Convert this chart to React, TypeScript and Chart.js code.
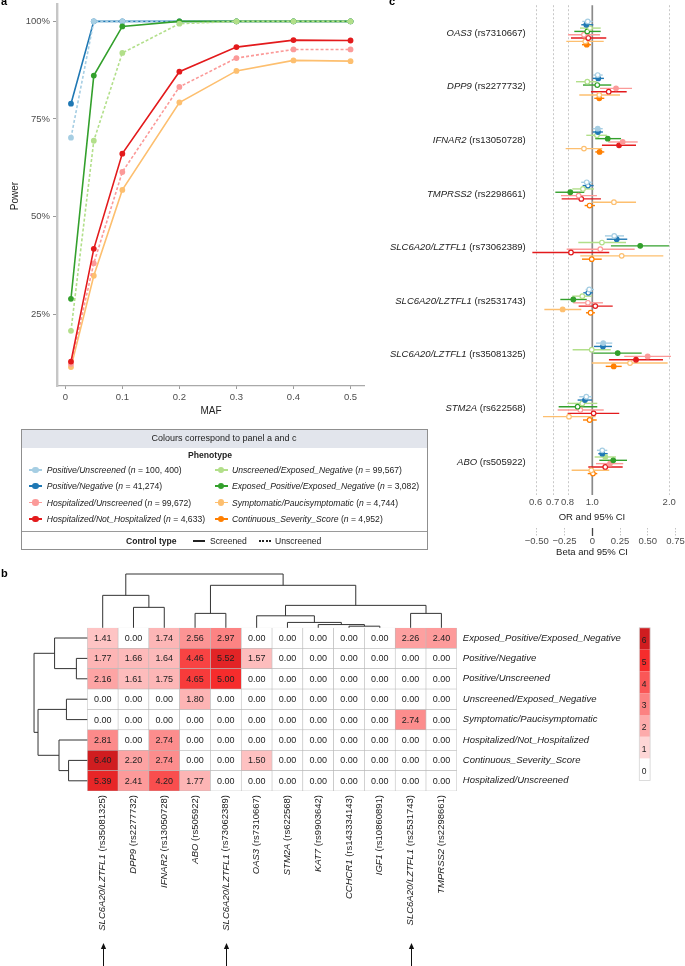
import React, { useEffect, useRef } from "react";
import { Chart, registerables } from "chart.js";

Chart.register(...registerables);

const FONT = '"Liberation Sans", Arial, Helvetica, sans-serif';
Chart.defaults.font.family = FONT;

// ---------------- Phenotypes (shared by a, c and legend) ----------------
const phenotypeNames = [
  "Positive/Unscreened",
  "Positive/Negative",
  "Unscreened/Exposed_Negative",
  "Exposed_Positive/Exposed_Negative",
  "Hospitalized/Unscreened",
  "Hospitalized/Not_Hospitalized",
  "Symptomatic/Paucisymptomatic",
  "Continuous_Severity_Score",
];
const phenotypeCounts = ["100, 400", "41,274", "99,567", "3,082", "99,672", "4,633", "4,744", "4,952"];
const phenotypeColors = ["#a6cee3", "#1f78b4", "#b2df8a", "#33a02c", "#fb9a99", "#e31a1c", "#fdbf6f", "#ff7f00"];
const phenotypeUnscreenedControl = [true, false, true, false, true, false, false, false];

// ---------------- Panel a: power ----------------
const mafValues = [0.01, 0.05, 0.1, 0.2, 0.3, 0.4, 0.5];
const mafTickValues = [0, 0.1, 0.2, 0.3, 0.4, 0.5];
const mafTickLabels = ["0", "0.1", "0.2", "0.3", "0.4", "0.5"];
const powerTickValues = [25, 50, 75, 100];

const powerPositiveUnscreened = [70.2, 100, 100, 100, 100, 100, 100];
const powerPositiveNegative = [78.9, 100, 100, 100, 100, 100, 100];
const powerUnscreenedExposedNegative = [20.7, 69.4, 91.9, 99.4, 100, 100, 100];
const powerExposedPositiveNegative = [28.9, 86.1, 98.7, 100, 100, 100, 100];
const powerHospitalizedUnscreened = [12.2, 38.0, 61.4, 83.2, 90.6, 92.8, 92.8];
const powerHospitalizedNotHospitalized = [12.8, 41.7, 66.1, 87.1, 93.4, 95.2, 95.1];
const powerSymptomatic = [11.4, 34.8, 56.8, 79.2, 87.3, 90.0, 89.8];

// [phenotype index, values] in drawing priority (first = on top)
const powerSeries: [number, number[]][] = [
  [2, powerUnscreenedExposedNegative],
  [3, powerExposedPositiveNegative],
  [0, powerPositiveUnscreened],
  [1, powerPositiveNegative],
  [5, powerHospitalizedNotHospitalized],
  [4, powerHospitalizedUnscreened],
  [6, powerSymptomatic],
];

// ---------------- Panel c: forest (log OR / beta) ----------------
const forestGenes = ["OAS3", "DPP9", "IFNAR2", "TMPRSS2", "SLC6A20/LZTFL1", "SLC6A20/LZTFL1", "SLC6A20/LZTFL1", "STM2A", "ABO"];
const forestRsIds = ["rs7310667", "rs2277732", "rs13050728", "rs2298661", "rs73062389", "rs2531743", "rs35081325", "rs622568", "rs505922"];
// rows = SNPs, columns = phenotypes (same order as phenotypeNames)
const forestEstimate = [
  [-0.041, -0.054, -0.021, -0.045, -0.075, -0.036, -0.063, -0.05],
  [0.049, 0.054, -0.045, 0.045, 0.214, 0.148, 0.063, 0.063],
  [0.049, 0.051, 0.042, 0.139, 0.274, 0.241, -0.075, 0.066],
  [-0.05, -0.039, -0.084, -0.198, -0.123, -0.099, 0.195, -0.024],
  [0.198, 0.22, 0.087, 0.432, 0.072, -0.192, 0.265, -0.005],
  [-0.027, -0.036, -0.09, -0.171, -0.039, 0.027, -0.267, -0.015],
  [0.099, 0.096, -0.005, 0.229, 0.499, 0.394, 0.34, 0.193],
  [-0.054, -0.066, -0.09, -0.132, -0.108, 0.012, -0.21, -0.024],
  [0.09, 0.09, 0.117, 0.189, 0.159, 0.117, -0.009, 0.006],
];
const forestLower = [
  [-0.09, -0.099, -0.111, -0.162, -0.219, -0.192, -0.234, -0.093],
  [0.009, 0.004, -0.147, -0.084, 0.069, -0.012, -0.117, 0.018],
  [0.004, 0.004, -0.054, 0.027, 0.144, 0.087, -0.24, 0.027],
  [-0.1, -0.087, -0.18, -0.333, -0.282, -0.276, 0.0, -0.069],
  [0.114, 0.13, -0.126, 0.168, -0.231, -0.54, -0.108, -0.093],
  [-0.06, -0.081, -0.18, -0.288, -0.171, -0.123, -0.432, -0.057],
  [0.033, 0.015, -0.177, 0.009, 0.288, 0.15, -0.005, 0.121],
  [-0.117, -0.132, -0.225, -0.303, -0.312, -0.222, -0.444, -0.084],
  [0.042, 0.054, 0.021, 0.063, 0.033, -0.036, -0.186, -0.041],
];
const forestUpper = [
  [0.004, 0.009, 0.076, 0.076, 0.069, 0.126, 0.103, -0.012],
  [0.094, 0.105, 0.04, 0.171, 0.358, 0.31, 0.25, 0.108],
  [0.094, 0.096, 0.132, 0.259, 0.409, 0.394, 0.09, 0.108],
  [0.0, 0.012, 0.015, -0.072, 0.042, 0.078, 0.394, 0.024],
  [0.286, 0.315, 0.304, 0.691, 0.382, 0.153, 0.64, 0.085],
  [0.015, 0.004, -0.003, -0.05, 0.096, 0.184, -0.099, 0.024],
  [0.18, 0.177, 0.166, 0.445, 0.709, 0.637, 0.679, 0.265],
  [-0.003, -0.003, 0.045, 0.045, 0.103, 0.243, 0.03, 0.04],
  [0.135, 0.139, 0.214, 0.313, 0.279, 0.274, 0.153, 0.045],
];
const forestSignificant = [
  [0, 1, 0, 0, 0, 0, 0, 1],
  [0, 1, 0, 0, 1, 0, 0, 1],
  [1, 1, 0, 1, 1, 1, 0, 1],
  [0, 0, 0, 1, 0, 0, 0, 0],
  [0, 1, 0, 1, 0, 0, 0, 0],
  [0, 0, 0, 1, 0, 0, 1, 0],
  [1, 1, 0, 1, 1, 1, 0, 1],
  [0, 1, 0, 0, 0, 0, 0, 0],
  [0, 1, 1, 1, 1, 0, 0, 0],
];
const orTickValues = [0.6, 0.7, 0.8, 1.0, 2.0];
const orTickLabels = ["0.6", "0.7", "0.8", "1.0", "2.0"];
const betaTickValues = [-0.5, -0.25, 0, 0.25, 0.5, 0.75];
const betaTickLabels = ["\u22120.50", "\u22120.25", "0", "0.25", "0.50", "0.75"];
const forestDodge = 0.062;

// ---------------- Panel b: heatmap ----------------
const heatRowLabels = [
  "Exposed_Positive/Exposed_Negative",
  "Positive/Negative",
  "Positive/Unscreened",
  "Unscreened/Exposed_Negative",
  "Symptomatic/Paucisymptomatic",
  "Hospitalized/Not_Hospitalized",
  "Continuous_Severity_Score",
  "Hospitalized/Unscreened",
];
const heatColumnGenes = ["SLC6A20/LZTFL1", "DPP9", "IFNAR2", "ABO", "SLC6A20/LZTFL1", "OAS3", "STM2A", "KAT7", "CCHCR1", "IGF1", "SLC6A20/LZTFL1", "TMPRSS2"];
const heatColumnRsIds = ["rs35081325", "rs2277732", "rs13050728", "rs505922", "rs73062389", "rs7310667", "rs622568", "rs9903642", "rs143334143", "rs10860891", "rs2531743", "rs2298661"];
const heatExposedPositiveNegative = [1.41, 0, 1.74, 2.56, 2.97, 0, 0, 0, 0, 0, 2.26, 2.4];
const heatPositiveNegative = [1.77, 1.66, 1.64, 4.46, 5.52, 1.57, 0, 0, 0, 0, 0, 0];
const heatPositiveUnscreened = [2.16, 1.61, 1.75, 4.65, 5.0, 0, 0, 0, 0, 0, 0, 0];
const heatUnscreenedExposedNegative = [0, 0, 0, 1.8, 0, 0, 0, 0, 0, 0, 0, 0];
const heatSymptomatic = [0, 0, 0, 0, 0, 0, 0, 0, 0, 0, 2.74, 0];
const heatHospitalizedNotHospitalized = [2.81, 0, 2.74, 0, 0, 0, 0, 0, 0, 0, 0, 0];
const heatContinuousSeverity = [6.4, 2.2, 2.74, 0, 0, 1.5, 0, 0, 0, 0, 0, 0];
const heatHospitalizedUnscreened = [5.39, 2.41, 4.2, 1.77, 0, 0, 0, 0, 0, 0, 0, 0];
const heatValues = [
  heatExposedPositiveNegative,
  heatPositiveNegative,
  heatPositiveUnscreened,
  heatUnscreenedExposedNegative,
  heatSymptomatic,
  heatHospitalizedNotHospitalized,
  heatContinuousSeverity,
  heatHospitalizedUnscreened,
];
const heatScaleColors = ["#ffffff", "#fed6d6", "#fdabab", "#fc8282", "#fa5757", "#f62c2c", "#d01d20"];
const colorbarValues = [6, 5, 4, 3, 2, 1, 0];
const arrowColumns = [0, 4, 10];
// dendrograms (hclust-style merges: negative = leaf, positive = earlier merge)
const colMerges = [[-9, -10], [-8, 1], [-7, 2], [-6, 3], [-2, -3], [-1, 5], [-4, -5], [-11, -12], [4, 8], [7, 9], [6, 10]];
const colMergeHeights = [0.3, 0.6, 1.0, 2.23, 3.8, 6.03, 2.68, 2.68, 4.17, 7.9, 10];
const rowMerges = [[-2, -3], [-1, 1], [-4, -5], [-7, -8], [-6, 4], [3, 5], [2, 6]];
const rowMergeHeights = [2.03, 6.08, 3.88, 3.48, 5.26, 9.16, 9.9];

function hexToRgb(h: string) {
  const n = parseInt(h.slice(1), 16);
  return [(n >> 16) & 255, (n >> 8) & 255, n & 255];
}
function heatColor(v: number) {
  const c = Math.max(0, Math.min(6, v));
  const i = Math.min(5, Math.floor(c));
  const t = c - i;
  const a = hexToRgb(heatScaleColors[i]);
  const b = hexToRgb(heatScaleColors[i + 1]);
  const m = a.map((x, k) => Math.round(x + (b[k] - x) * t));
  return `rgb(${m[0]},${m[1]},${m[2]})`;
}

function drawTree(ctx: CanvasRenderingContext2D, merges: number[][], heights: number[], leafPos: (i: number) => number, point: (p: number, h: number) => [number, number]) {
  const memo: Record<number, { p: number; h: number }> = {};
  const pos = (node: number): { p: number; h: number } => {
    if (node < 0) return { p: leafPos(-node - 1), h: 0 };
    if (memo[node]) return memo[node];
    const [a, b] = merges[node - 1];
    const A = pos(a);
    const B = pos(b);
    const h = heights[node - 1];
    const p1 = point(A.p, A.h), p2 = point(A.p, h), p3 = point(B.p, h), p4 = point(B.p, B.h);
    ctx.beginPath();
    ctx.moveTo(p1[0], p1[1]);
    ctx.lineTo(p2[0], p2[1]);
    ctx.lineTo(p3[0], p3[1]);
    ctx.lineTo(p4[0], p4[1]);
    ctx.stroke();
    memo[node] = { p: (A.p + B.p) / 2, h };
    return memo[node];
  };
  pos(merges.length);
}

const TREE_PX = 5.38;

const heatmapPlugin = {
  id: "heatExtras",
  afterDatasetsDraw(chart: any) {
    const { ctx, chartArea } = chart;
    const xs = chart.scales.x;
    const ys = chart.scales.y;
    ctx.save();
    // cell values
    ctx.font = `9px ${FONT}`;
    ctx.fillStyle = "#222";
    ctx.textAlign = "center";
    ctx.textBaseline = "middle";
    heatValues.forEach((row, r) =>
      row.forEach((v, c) => {
        ctx.fillText(v.toFixed(2), xs.getPixelForValue(c), ys.getPixelForValue(r + 0.5) + 0.5);
      })
    );
    // row labels
    ctx.font = `italic 9.5px ${FONT}`;
    ctx.textAlign = "left";
    heatRowLabels.forEach((lab, r) => {
      ctx.fillText(lab, chartArea.right + 6, ys.getPixelForValue(r + 0.5));
    });
    // column labels (rotated)
    heatColumnGenes.forEach((gene, c) => {
      const x = xs.getPixelForValue(c);
      ctx.save();
      ctx.translate(x, chartArea.bottom + 4);
      ctx.rotate(-Math.PI / 2);
      ctx.textBaseline = "middle";
      ctx.textAlign = "left";
      ctx.font = `9.5px ${FONT}`;
      const rs = ` (${heatColumnRsIds[c]})`;
      const wRs = ctx.measureText(rs).width;
      ctx.font = `italic 9.5px ${FONT}`;
      const wG = ctx.measureText(gene).width;
      const start = -(wG + wRs);
      ctx.fillText(gene, start, 0);
      ctx.font = `9.5px ${FONT}`;
      ctx.fillText(rs, start + wG, 0);
      ctx.restore();
    });
    // dendrograms
    ctx.strokeStyle = "#333";
    ctx.lineWidth = 1;
    drawTree(ctx, colMerges, colMergeHeights, (i) => xs.getPixelForValue(i), (p, h) => [p, chartArea.top - h * TREE_PX]);
    drawTree(ctx, rowMerges, rowMergeHeights, (i) => ys.getPixelForValue(i + 0.5), (p, h) => [chartArea.left - h * TREE_PX, p]);
    // colour bar
    const cbX = chartArea.right + 182.5;
    const cbW = 10.8;
    const cbH = 21.8;
    colorbarValues.forEach((v, k) => {
      const y = chartArea.top + k * cbH;
      ctx.fillStyle = heatColor(v);
      ctx.fillRect(cbX, y, cbW, cbH);
      ctx.fillStyle = "#222";
      ctx.font = `8.5px ${FONT}`;
      ctx.textAlign = "center";
      ctx.fillText(String(v), cbX + 4.8, y + cbH / 2 + 2);
    });
    ctx.strokeStyle = "#d4d4d4";
    ctx.lineWidth = 0.8;
    ctx.strokeRect(cbX, chartArea.top, cbW, cbH * colorbarValues.length);
    // arrows
    ctx.strokeStyle = "#111";
    ctx.fillStyle = "#111";
    ctx.lineWidth = 1;
    arrowColumns.forEach((c) => {
      const x = Math.round(xs.getPixelForValue(c)) + 0.5;
      const tip = chartArea.bottom + 152;
      ctx.beginPath();
      ctx.moveTo(x, tip + 3);
      ctx.lineTo(x, chart.height);
      ctx.stroke();
      ctx.beginPath();
      ctx.moveTo(x, tip);
      ctx.lineTo(x - 2.6, tip + 6);
      ctx.lineTo(x + 2.6, tip + 6);
      ctx.closePath();
      ctx.fill();
    });
    ctx.restore();
  },
};

const forestPlugin = {
  id: "forestExtras",
  beforeDatasetsDraw(chart: any) {
    const { ctx, chartArea } = chart;
    const xs = chart.scales.x;
    const ys = chart.scales.y;
    ctx.save();
    orTickValues.forEach((or) => {
      if (or === 1) return;
      const px = Math.round(xs.getPixelForValue(Math.log(or))) + 0.5;
      ctx.beginPath();
      ctx.setLineDash([2, 2]);
      ctx.strokeStyle = "#c2c2c2";
      ctx.lineWidth = 0.9;
      ctx.moveTo(px, chartArea.top);
      ctx.lineTo(px, chartArea.bottom);
      ctx.stroke();
    });
    ctx.setLineDash([]);
    const p0 = xs.getPixelForValue(0);
    ctx.beginPath();
    ctx.strokeStyle = "#8a8a8a";
    ctx.lineWidth = 1.7;
    ctx.moveTo(p0, chartArea.top);
    ctx.lineTo(p0, chartArea.bottom);
    ctx.stroke();
    // confidence intervals
    ctx.lineWidth = 1.4;
    phenotypeColors.forEach((col, j) => {
      ctx.strokeStyle = col;
      forestGenes.forEach((_, g) => {
        const y = ys.getPixelForValue(g + (j - 3.5) * forestDodge);
        ctx.beginPath();
        ctx.moveTo(xs.getPixelForValue(forestLower[g][j]), y);
        ctx.lineTo(xs.getPixelForValue(forestUpper[g][j]), y);
        ctx.stroke();
      });
    });
    ctx.restore();
  },
  afterDraw(chart: any) {
    const { ctx, chartArea } = chart;
    const ys = chart.scales.y;
    ctx.save();
    ctx.textBaseline = "middle";
    ctx.fillStyle = "#222";
    ctx.textAlign = "right";
    const rightX = chartArea.left - 6.1;
    forestGenes.forEach((gene, g) => {
      const y = ys.getPixelForValue(g);
      ctx.font = `9.5px ${FONT}`;
      const rs = ` (${forestRsIds[g]})`;
      const wRs = ctx.measureText(rs).width;
      ctx.fillText(rs, rightX, y);
      ctx.font = `italic 9.5px ${FONT}`;
      ctx.fillText(gene, rightX - wRs, y);
    });
    ctx.restore();
  },
};

function Txt(props: any) {
  const { x, y, size = 9.5, weight = "normal", fstyle = "normal", align = "center", color = "#222", rotate = 0, children } = props;
  const w = 300;
  const left = align === "center" ? x - w / 2 : align === "right" ? x - w : x;
  const lh = size * 1.2;
  return (
    <div
      style={{
        position: "absolute",
        left,
        top: y - lh / 2,
        width: w,
        height: lh,
        lineHeight: `${lh}px`,
        fontSize: size,
        fontWeight: weight,
        fontStyle: fstyle,
        textAlign: align,
        color,
        whiteSpace: "nowrap",
        fontFamily: FONT,
        transform: rotate ? `rotate(${rotate}deg)` : undefined,
        transformOrigin: `${x - left}px ${lh / 2}px`,
      }}
    >
      {children}
    </div>
  );
}

function LegendItem(props: any) {
  const { p, mx, tx, y } = props;
  const color = phenotypeColors[p];
  return (
    <>
      <div style={{ position: "absolute", left: mx - 6.5, top: y - 0.9, width: 13, height: 1.8, background: color }} />
      <div style={{ position: "absolute", left: mx - 3.2, top: y - 3.2, width: 6.4, height: 6.4, borderRadius: "50%", background: color }} />
      <div style={{ position: "absolute", left: tx, top: y - 6, height: 12, lineHeight: "12px", fontSize: 8.6, whiteSpace: "nowrap", color: "#222", fontFamily: FONT }}>
        <i>{phenotypeNames[p]}</i> (<i>n</i> = {phenotypeCounts[p]})
      </div>
    </>
  );
}

export default function App() {
  const aRef = useRef<HTMLCanvasElement>(null);
  const bRef = useRef<HTMLCanvasElement>(null);
  const cRef = useRef<HTMLCanvasElement>(null);

  useEffect(() => {
    const charts: Chart[] = [];
    const tickFont = { size: 9.5, family: FONT };

    charts.push(
      new Chart(aRef.current as HTMLCanvasElement, {
        type: "line",
        data: {
          datasets: powerSeries.map(([p, vals]) => ({
            label: phenotypeNames[p],
            data: mafValues.map((m, i) => ({ x: m, y: vals[i] })),
            borderColor: phenotypeColors[p],
            backgroundColor: phenotypeColors[p],
            pointBackgroundColor: phenotypeColors[p],
            pointBorderColor: phenotypeColors[p],
            pointBorderWidth: 0,
            pointRadius: 2.9,
            borderWidth: 1.6,
            borderDash: phenotypeUnscreenedControl[p] ? [3, 2] : [],
            tension: 0,
            fill: false,
          })),
        },
        options: {
          responsive: false,
          animation: false,
          layout: { padding: { left: 0, top: 3, right: 5.5, bottom: 0 } },
          plugins: { legend: { display: false }, tooltip: { enabled: false } },
          scales: {
            x: {
              type: "linear",
              min: -0.0145,
              max: 0.5245,
              afterBuildTicks: (s: any) => {
                s.ticks = mafTickValues.map((v) => ({ value: v }));
              },
              afterFit: (s: any) => {
                s.height = 34;
                s.paddingLeft = 0;
                s.paddingRight = 0;
              },
              grid: { drawOnChartArea: false, drawTicks: true, tickLength: 3, tickColor: "#9a9a9a" },
              border: { display: true, color: "#a9a9a9", width: 1.2 },
              ticks: { autoSkip: false, maxRotation: 0, minRotation: 0, padding: 3, color: "#4d4d4d", font: tickFont, callback: (_v: any, i: number) => mafTickLabels[i] },
            },
            y: {
              type: "linear",
              min: 6.55,
              max: 104.45,
              afterBuildTicks: (s: any) => {
                s.ticks = powerTickValues.map((v) => ({ value: v }));
              },
              afterFit: (s: any) => {
                s.width = 57;
                s.paddingTop = 0;
                s.paddingBottom = 0;
              },
              grid: { drawOnChartArea: false, drawTicks: true, tickLength: 4, tickColor: "#9a9a9a" },
              border: { display: true, color: "#c6c6c6", width: 2.4 },
              ticks: { autoSkip: false, padding: 3, color: "#4d4d4d", font: tickFont, callback: (_v: any, i: number) => `${powerTickValues[i]}%` },
            },
          },
        },
      } as any)
    );

    charts.push(
      new Chart(cRef.current as HTMLCanvasElement, {
        type: "scatter",
        data: {
          datasets: phenotypeNames.map((name, j) => ({
            label: name,
            data: forestGenes.map((_, g) => ({ x: forestEstimate[g][j], y: g + (j - 3.5) * forestDodge })),
            pointRadius: 2.3,
            pointBorderWidth: 1.2,
            pointBorderColor: phenotypeColors[j],
            pointBackgroundColor: forestGenes.map((_, g) => (forestSignificant[g][j] ? phenotypeColors[j] : "#ffffff")),
            showLine: false,
          })),
        },
        options: {
          responsive: false,
          animation: false,
          layout: { padding: { left: 191.8, top: 3, right: 6.7, bottom: 0 } },
          plugins: { legend: { display: false }, tooltip: { enabled: false } },
          scales: {
            y: { type: "linear", display: false, min: -0.52, max: 8.616, reverse: true },
            x: {
              type: "linear",
              position: "bottom",
              min: -0.545,
              max: 0.775,
              afterBuildTicks: (s: any) => {
                s.ticks = orTickValues.map((v) => ({ value: Math.log(v) }));
              },
              afterFit: (s: any) => {
                s.height = 33;
              },
              grid: { display: false, drawTicks: false },
              border: { display: false },
              ticks: { autoSkip: false, maxRotation: 0, minRotation: 0, padding: 1.3, color: "#4d4d4d", font: tickFont, callback: (_v: any, i: number) => orTickLabels[i] },
            },
            x2: {
              type: "linear",
              position: "bottom",
              min: -0.545,
              max: 0.775,
              afterBuildTicks: (s: any) => {
                s.ticks = betaTickValues.map((v) => ({ value: v }));
              },
              afterFit: (s: any) => {
                s.height = 32;
              },
              grid: {
                display: true,
                drawOnChartArea: false,
                drawTicks: true,
                tickLength: 8,
                tickWidth: (ctx: any) => (ctx.tick && ctx.tick.value === 0 ? 1.3 : 0.9),
                tickColor: (ctx: any) => (ctx.tick && ctx.tick.value === 0 ? "#444" : "#bdbdbd"),
                tickBorderDash: (ctx: any) => (ctx.tick && ctx.tick.value === 0 ? [] : [1.5, 1.5]),
              },
              border: { display: false },
              ticks: { autoSkip: false, maxRotation: 0, minRotation: 0, padding: 0, color: "#4d4d4d", font: tickFont, callback: (_v: any, i: number) => betaTickLabels[i] },
            },
          },
        },
        plugins: [forestPlugin],
      } as any)
    );

    charts.push(
      new Chart(bRef.current as HTMLCanvasElement, {
        type: "bar",
        data: {
          labels: heatColumnGenes.map((g, c) => `${g} (${heatColumnRsIds[c]})`),
          datasets: heatRowLabels.map((name, r) => ({
            label: name,
            data: heatColumnGenes.map(() => 1),
            backgroundColor: heatValues[r].map((v) => heatColor(v)),
            borderColor: "#b9b9b9",
            borderWidth: 0.6,
            borderSkipped: false,
            barPercentage: 1,
            categoryPercentage: 1,
          })),
        },
        options: {
          responsive: false,
          animation: false,
          layout: { padding: { left: 87.3, top: 67.8, right: 228.2, bottom: 175 } },
          plugins: { legend: { display: false }, tooltip: { enabled: false } },
          scales: {
            x: { display: false, stacked: true },
            y: { display: false, stacked: true, min: 0, max: 8, reverse: true },
          },
        },
        plugins: [heatmapPlugin],
      } as any)
    );

    return () => charts.forEach((c) => c.destroy());
  }, []);

  const legendRowsY = [470, 486.3, 502.6, 518.9];
  const legendLeft = [0, 1, 4, 5];
  const legendRight = [2, 3, 6, 7];

  return (
    <div style={{ position: "absolute", left: 0, top: 0, width: 685, height: 966, background: "#fff", overflow: "hidden", fontFamily: FONT }}>
      <canvas ref={aRef} width={370} height={420} style={{ position: "absolute", left: 0, top: 0, width: 370, height: 420 }} />
      <canvas ref={cRef} width={345} height={560} style={{ position: "absolute", left: 340, top: 0, width: 345, height: 560 }} />
      <canvas ref={bRef} width={685} height={406} style={{ position: "absolute", left: 0, top: 560, width: 685, height: 406 }} />

      <Txt x={1} y={2} size={11} weight="bold" align="left" color="#000">a</Txt>
      <Txt x={15} y={196} size={10} rotate={-90} color="#222">Power</Txt>
      <Txt x={211} y={411} size={10} color="#222">MAF</Txt>

      <Txt x={389} y={2} size={11} weight="bold" align="left" color="#000">c</Txt>
      <Txt x={592} y={517} size={9.5} color="#222">OR and 95% CI</Txt>
      <Txt x={592} y={552} size={9.5} color="#222">Beta and 95% CI</Txt>

      <Txt x={1} y={574} size={11} weight="bold" align="left" color="#000">b</Txt>

      {/* legend box */}
      <div style={{ position: "absolute", left: 20.5, top: 429, width: 407.5, height: 120.5, border: "1px solid #8f8f8f", boxSizing: "border-box" }} />
      <div style={{ position: "absolute", left: 21.5, top: 430, width: 405.5, height: 17.5, background: "#e2e5ec" }} />
      <Txt x={224} y={438.7} size={9}>Colours correspond to panel a and c</Txt>
      <Txt x={210} y={455} size={8.6} weight="bold">Phenotype</Txt>
      {legendLeft.map((p, i) => (
        <LegendItem key={"l" + p} p={p} mx={35.5} tx={46.7} y={legendRowsY[i]} />
      ))}
      {legendRight.map((p, i) => (
        <LegendItem key={"r" + p} p={p} mx={221} tx={232} y={legendRowsY[i]} />
      ))}
      <div style={{ position: "absolute", left: 21.5, top: 530.5, width: 405.5, height: 1, background: "#9a9a9a" }} />
      <Txt x={126} y={540.7} size={8.6} weight="bold" align="left">Control type</Txt>
      <div style={{ position: "absolute", left: 193, top: 540, width: 12, height: 1.8, background: "#222" }} />
      <Txt x={210} y={540.7} size={8.6} align="left">Screened</Txt>
      <div style={{ position: "absolute", left: 259, top: 539.8, width: 12, height: 0, borderTop: "2px dotted #222" }} />
      <Txt x={275} y={540.7} size={8.6} align="left">Unscreened</Txt>
    </div>
  );
}
